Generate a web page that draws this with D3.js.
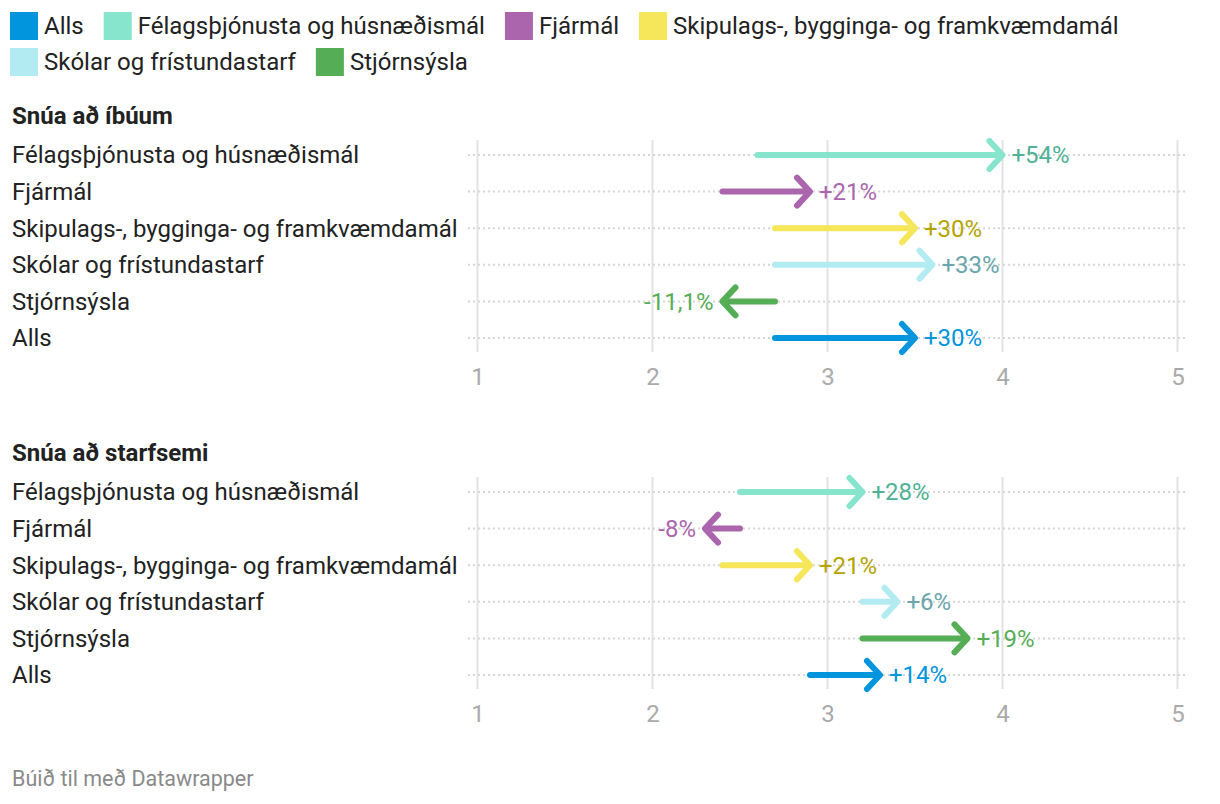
<!DOCTYPE html>
<html>
<head>
<meta charset="utf-8">
<script src="https://cdn.jsdelivr.net/npm/d3@7"></script>
<style>
  body { margin: 0; background: #fff; }
  svg { display: block; font-family: Roboto, "Noto Sans", sans-serif; }
</style>
</head>
<body>
<div id="chart"></div>
<script>
// categories, in row order
var categories = [
  "Félagsþjónusta og húsnæðismál",
  "Fjármál",
  "Skipulags-, bygginga- og framkvæmdamál",
  "Skólar og frístundastarf",
  "Stjórnsýsla",
  "Alls"
];
var legendOrder = ["Alls", "Félagsþjónusta og húsnæðismál", "Fjármál",
  "Skipulags-, bygginga- og framkvæmdamál", "Skólar og frístundastarf", "Stjórnsýsla"];
var colors = ["#86e5cc", "#ab65ad", "#f5e65a", "#b2ebf2", "#55ae55", "#0095dd"];
var labelColors = ["#4fb196", "#ab65ad", "#b3a400", "#6aa4ac", "#55ae55", "#0095dd"];

// panel 1: Snúa að íbúum
var ibuarStart = [2.6, 2.4, 2.7, 2.7, 2.7, 2.7];
var ibuarEnd = [4.0, 2.9, 3.5, 3.6, 2.4, 3.5];
var ibuarLabels = ["+54%", "+21%", "+30%", "+33%", "-11,1%", "+30%"];

// panel 2: Snúa að starfsemi
var starfStart = [2.5, 2.5, 2.4, 3.2, 3.2, 2.9];
var starfEnd = [3.2, 2.3, 2.9, 3.4, 3.8, 3.3];
var starfLabels = ["+28%", "-8%", "+21%", "+6%", "+19%", "+14%"];

var xTicks = [1, 2, 3, 4, 5];

var width = 1220, height = 804;
var fs = "24px";

var svg = d3.select("#chart").append("svg")
  .attr("width", width)
  .attr("height", height);

// legend
var legend = svg.append("g");
var lx = 10, ly = 12, rowH = 36;
legendOrder.forEach(function(name) {
  var g = legend.append("g");
  var t = g.append("text")
    .attr("x", 34).attr("y", 14)
    .attr("dy", "0.35em")
    .style("font-size", fs)
    .style("fill", "#222")
    .text(name);
  var w = 34 + t.node().getComputedTextLength();
  if (lx + w > width - 10) { lx = 10; ly += rowH; }
  g.attr("transform", "translate(" + lx + "," + ly + ")");
  g.insert("rect", "text")
    .attr("width", 28).attr("height", 28)
    .attr("fill", colors[categories.indexOf(name)]);
  lx += w + 20;
});

var x = d3.scaleLinear().domain([1, 5]).range([477.5, 1177.5]);

function drawPanel(top, title, starts, ends, labels) {
  var g = svg.append("g").attr("transform", "translate(0," + top + ")");

  g.append("text")
    .attr("x", 12).attr("y", 0).attr("dy", "0.35em")
    .style("font-size", fs).style("font-weight", "bold").style("fill", "#222")
    .text(title);

  var y = d3.scalePoint().domain(categories).range([39, 222]);

  // vertical gridlines
  g.selectAll(".vg").data(xTicks).enter().append("line")
    .attr("x1", x).attr("x2", x)
    .attr("y1", 24).attr("y2", 236)
    .attr("stroke", "#e2e2e2").attr("stroke-width", 2);

  // dotted row lines
  g.selectAll(".hg").data(categories).enter().append("line")
    .attr("x1", 468).attr("x2", 1187)
    .attr("y1", y).attr("y2", y)
    .attr("stroke", "#d6d6d6").attr("stroke-width", 2)
    .attr("stroke-dasharray", "2,3");

  // row labels
  g.selectAll(".rl").data(categories).enter().append("text")
    .attr("x", 12).attr("y", y).attr("dy", "0.35em")
    .style("font-size", fs).style("fill", "#222")
    .text(function(d) { return d; });

  // axis
  var axis = g.append("g")
    .attr("transform", "translate(0,236)")
    .call(d3.axisBottom(x).tickValues(xTicks).tickFormat(d3.format("d"))
      .tickSize(0).tickPadding(16));
  axis.select(".domain").remove();
  axis.selectAll("text")
    .style("font-size", fs).style("fill", "#aaa")
    .style("font-family", "Roboto, sans-serif");

  // arrows
  categories.forEach(function(c, i) {
    var x0 = x(starts[i]), x1 = x(ends[i]), yy = y(c);
    var dir = x1 > x0 ? 1 : -1;
    var a = g.append("g")
      .attr("stroke", colors[i]).attr("stroke-width", 6)
      .attr("stroke-linecap", "round").attr("stroke-linejoin", "round")
      .attr("fill", "none");
    a.append("line")
      .attr("x1", x0).attr("x2", x1 - dir * 2)
      .attr("y1", yy).attr("y2", yy);
    a.append("path")
      .attr("d", "M" + (x1 - dir * 13) + "," + (yy - 14) +
        "L" + x1 + "," + yy +
        "L" + (x1 - dir * 13) + "," + (yy + 14));
    g.append("text")
      .attr("x", x1 + dir * 9).attr("y", yy).attr("dy", "0.35em")
      .attr("text-anchor", dir > 0 ? "start" : "end")
      .style("font-size", fs).style("fill", labelColors[i])
      .text(labels[i]);
  });
}

drawPanel(116, "Snúa að íbúum", ibuarStart, ibuarEnd, ibuarLabels);
drawPanel(453, "Snúa að starfsemi", starfStart, starfEnd, starfLabels);

svg.append("text")
  .attr("x", 12).attr("y", 778).attr("dy", "0.35em")
  .style("font-size", "21.5px").style("fill", "#8a8a8a")
  .text("Búið til með Datawrapper");
</script>
</body>
</html>
